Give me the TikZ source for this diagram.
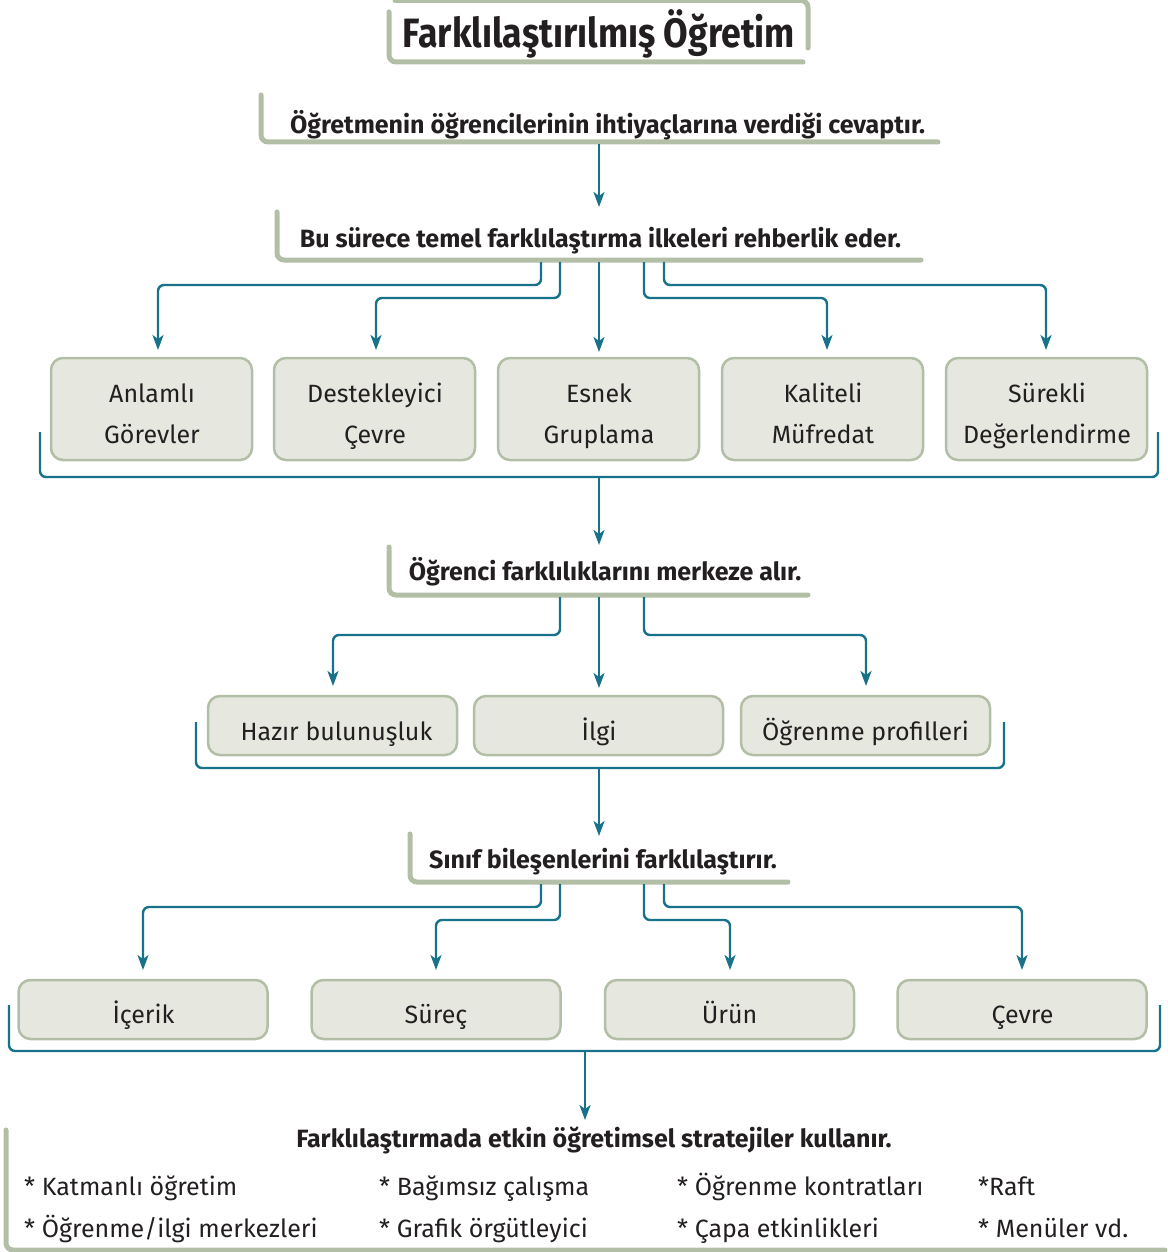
\documentclass[tikz,border=0pt]{standalone}
\usepackage{fontspec}
\setmainfont{Fira Sans}
\usetikzlibrary{arrows.meta}
\definecolor{frame}{HTML}{B3BEA6}
\definecolor{boxfill}{HTML}{E6E8DF}
\definecolor{teal}{HTML}{18728A}
\definecolor{txt}{HTML}{231F20}
\begin{document}
\begin{tikzpicture}[x=1pt,y=-1pt,
  conn/.style={draw=teal, line width=2.4pt, rounded corners=6pt},
  arr/.style={conn, -{Stealth[length=15pt,width=11pt,inset=4pt]}},
  fr/.style={draw=frame, line width=5pt, rounded corners=7pt, line cap=round},
  box/.style={draw=frame, fill=boxfill, line width=2.5pt, rounded corners=12pt, inner sep=0pt},
  boxa/.style={box, minimum width=201pt, minimum height=102pt},
  boxb/.style={box, minimum width=249pt, minimum height=59pt},
  btxt/.style={text=txt, font=\fontsize{25}{30}\selectfont, inner sep=0pt, anchor=base},
  head/.style={text=txt, font=\fontsize{25}{30}\bfseries\selectfont, inner sep=0pt, anchor=base},
  item/.style={text=txt, font=\fontsize{25}{30}\selectfont, inner sep=0pt, anchor=base west},
  title/.style={text=txt, font=\fontsize{41}{44}\bfseries\selectfont, inner sep=0pt, anchor=base}]
\useasboundingbox (0,0) rectangle (1167,1252);

% title
\draw[fr] (389,12) -- (389,62) -- (803,62);
\draw[fr] (395,0.5) -- (808,0.5) -- (808,48);
\node[title] (title) at (599,48) {\scalebox{0.87}[1]{Farklılaştırılmış Öğretim}};

% heading 1
\draw[fr] (261,95) -- (261,142) -- (938,142);
\node[head] (h1) at (607.5,134) {Öğretmenin öğrencilerinin ihtiyaçlarına verdiği cevaptır.};
\coordinate (h1s) at (599,144);
\coordinate (h2n) at (599,207);
\draw[arr] (h1s) -- (h2n);

% heading 2
\draw[fr] (277,212) -- (277,260) -- (921,260);
\node[head] (h2) at (600.5,247) {Bu sürece temel farklılaştırma ilkeleri rehberlik eder.};

% row 1
\node[boxa] (b1) at (151.5,409) {};
\node[boxa] (b2) at (374.5,409) {};
\node[boxa] (b3) at (598.5,409) {};
\node[boxa] (b4) at (822.5,409) {};
\node[boxa] (b5) at (1046.5,409) {};
\foreach \b/\u/\l in {b1/Anlamlı/Görevler, b2/Destekleyici/Çevre, b3/Esnek/Gruplama, b4/Kaliteli/Müfredat, b5/Sürekli/Değerlendirme}{
  \node[btxt] (\b u) at ([xshift=0.5pt,yshift=7pt]\b.center) {\u};
  \node[btxt] (\b l) at ([xshift=0.5pt,yshift=-34pt]\b.center) {\l};
}

\coordinate (s21) at (541,262);
\coordinate (s22) at (560,262);
\coordinate (s23) at (599,262);
\coordinate (s24) at (644,262);
\coordinate (s25) at (664,262);
\coordinate (t11) at (158,350);
\coordinate (t12) at (376,350);
\coordinate (t13) at (599,352);
\coordinate (t14) at (827,350);
\coordinate (t15) at (1046,350);
\draw[arr] (s21) -- (541,285) -- (158,285) -- (t11);
\draw[arr] (s22) -- (560,298) -- (376,298) -- (t12);
\draw[arr] (s23) -- (t13);
\draw[arr] (s24) -- (644,298) -- (827,298) -- (t14);
\draw[arr] (s25) -- (664,285) -- (1046,285) -- (t15);

\coordinate (br1) at (599,477);
\draw[conn] (40,432) -- (40,477) -- (1158,477) -- (1158,432);
\coordinate (h3n) at (599,545);
\draw[arr] (br1) -- (h3n);

% heading 3
\draw[fr] (389,547) -- (389,595) -- (808,595);
\node[head] (h3) at (605,580) {Öğrenci farklılıklarını merkeze alır.};

% row 2
\node[boxb] (c1) at (332.5,725.5) {};
\node[boxb] (c2) at (598.5,725.5) {};
\node[boxb] (c3) at (865.5,725.5) {};
\node[btxt] (c1t) at (336.5,740) {Hazır bulunuşluk};
\node[btxt] (c2t) at (599,740) {İlgi};
\node[btxt] (c3t) at (865.5,740) {Öğrenme profilleri};

\coordinate (s31) at (560,597);
\coordinate (s32) at (599,597);
\coordinate (s33) at (644,597);
\coordinate (t21) at (333,686);
\coordinate (t22) at (599,688);
\coordinate (t23) at (866,686);
\draw[arr] (s31) -- (560,635) -- (333,635) -- (t21);
\draw[arr] (s32) -- (t22);
\draw[arr] (s33) -- (644,635) -- (866,635) -- (t23);

\coordinate (br2) at (599,768);
\draw[conn] (196,722) -- (196,768) -- (1004,768) -- (1004,722);
\coordinate (h4n) at (599,836);
\draw[arr] (br2) -- (h4n);

% heading 4
\draw[fr] (410,834) -- (410,882) -- (788,882);
\node[head] (h4) at (603,868) {Sınıf bileşenlerini farklılaştırır.};

% row 3
\node[boxb] (d1) at (143,1009.5) {};
\node[boxb] (d2) at (436,1009.5) {};
\node[boxb] (d3) at (729.5,1009.5) {};
\node[boxb] (d4) at (1022,1009.5) {};
\node[btxt] (d1t) at (143.5,1023) {İçerik};
\node[btxt] (d2t) at (436,1023) {Süreç};
\node[btxt] (d3t) at (729.5,1023) {Ürün};
\node[btxt] (d4t) at (1022.5,1023) {Çevre};

\coordinate (s41) at (541,884);
\coordinate (s42) at (560,884);
\coordinate (s43) at (644,884);
\coordinate (s44) at (664,884);
\coordinate (t31) at (143,970);
\coordinate (t32) at (436,970);
\coordinate (t33) at (730,970);
\coordinate (t34) at (1022,970);
\draw[arr] (s41) -- (541,907) -- (143,907) -- (t31);
\draw[arr] (s42) -- (560,920) -- (436,920) -- (t32);
\draw[arr] (s43) -- (644,920) -- (730,920) -- (t33);
\draw[arr] (s44) -- (664,907) -- (1022,907) -- (t34);

\coordinate (br3) at (585,1051);
\draw[conn] (9,1005) -- (9,1051) -- (1160,1051) -- (1160,1005);
\coordinate (h5n) at (585,1120);
\draw[arr] (br3) -- (h5n);

% bottom section
\draw[fr] (6,1130) -- (6,1250) -- (1165,1250);
\node[head] (h5) at (594,1147) {Farklılaştırmada etkin öğretimsel stratejiler kullanır.};
\node[item] (i1) at (24,1195) {* Katmanlı öğretim};
\node[item] (i2) at (379,1195) {* Bağımsız çalışma};
\node[item] (i3) at (677,1195) {* Öğrenme kontratları};
\node[item] (i4) at (978,1195) {*Raft};
\node[item] (i5) at (24,1237) {* Öğrenme/ilgi merkezleri};
\node[item] (i6) at (379,1237) {* Grafik örgütleyici};
\node[item] (i7) at (677,1237) {* Çapa etkinlikleri};
\node[item] (i8) at (978,1237) {* Menüler vd.};
\end{tikzpicture}
\end{document}
